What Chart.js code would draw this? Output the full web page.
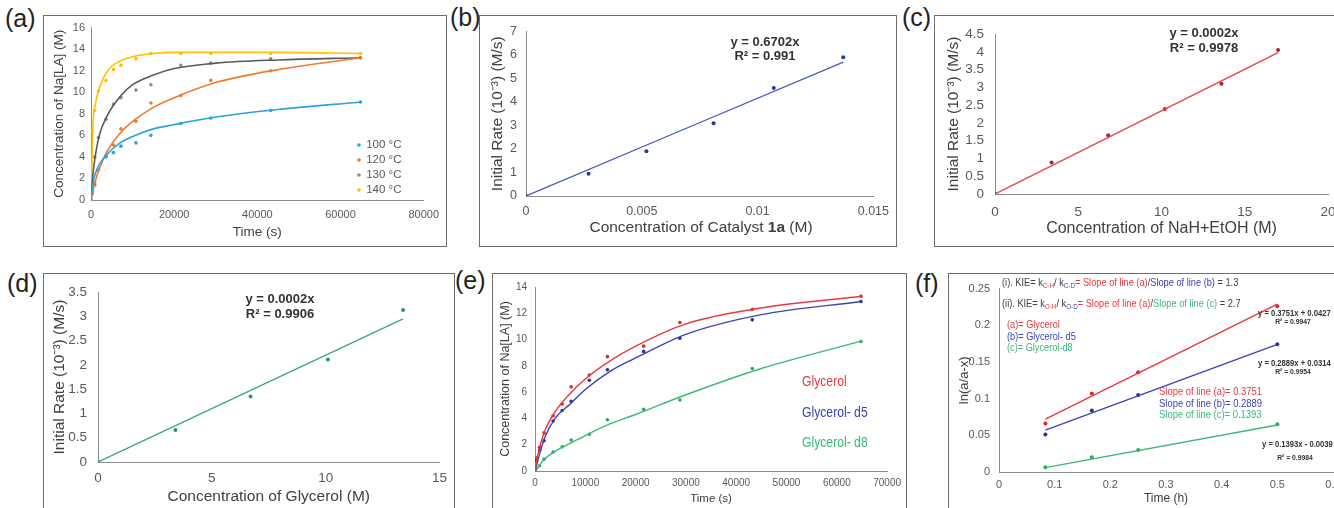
<!DOCTYPE html>
<html>
<head>
<meta charset="utf-8">
<script src="https://cdn.jsdelivr.net/npm/chart.js@4.4.0/dist/chart.umd.min.js"></script>
<style>
    body { margin: 0; width: 1334px; height: 508px; overflow: hidden; background: #fff; position: relative; font-family: 'Liberation Sans', Arial, sans-serif; }
    .box { position: absolute; border: 1px solid #6e6e6e; box-sizing: border-box; }
    canvas { position: absolute; }
    .lab { position: absolute; font-size: 25px; line-height: 1; color: #222; }
</style>
</head>
<body>
<div class="lab" style="left:5px;top:6px">(a)</div>
<div class="lab" style="left:450px;top:5px">(b)</div>
<div class="lab" style="left:902px;top:5px">(c)</div>
<div class="lab" style="left:7px;top:271px">(d)</div>
<div class="lab" style="left:455px;top:268px">(e)</div>
<div class="lab" style="left:915px;top:271px">(f)</div>

<script>
//#region === Dữ liệu ===

// (a) Na[LA] theo thời gian ở 4 nhiệt độ
const timeA = [0, 300, 900, 1800, 3600, 5400, 7200, 10800, 14400, 21600, 28800, 43200, 64800];
const conc100 = [0, 0.6, 1.4, 2.8, 4.0, 4.4, 5.0, 5.3, 6.0, 7.1, 7.6, 8.3, 9.1];
const conc120 = [0, 0.8, 1.6, 2.8, 4.1, 5.1, 6.6, 7.3, 9.0, 9.7, 11.1, 12.0, 13.2];
const conc130 = [0, 1.8, 4.0, 5.8, 7.5, 8.9, 9.5, 10.2, 10.7, 12.5, 12.7, 13.1, 13.2];
const conc140 = [0, 6.4, 8.3, 10.1, 11.1, 12.1, 12.5, 13.1, 13.6, 13.6, 13.6, 13.6, 13.6];
const fitTimeA = [0, 500, 1000, 2000, 4000, 7000, 10000, 15000, 20000, 30000, 45000, 65000];
const fit100 = [0, 1.6, 2.4, 3.3, 4.3, 5.3, 5.9, 6.6, 7.0, 7.7, 8.4, 9.1];
const fit120 = [0, 0.9, 1.7, 2.9, 4.6, 6.2, 7.3, 8.6, 9.5, 10.9, 12.1, 13.2];
const fit130 = [0, 2.5, 4.0, 6.0, 7.9, 9.6, 10.7, 11.6, 12.2, 12.7, 13.0, 13.2];
const fit140 = [0, 7.2, 8.8, 10.4, 12.0, 12.9, 13.3, 13.6, 13.7, 13.7, 13.7, 13.6];
const tempLabels = ['100 °C', '120 °C', '130 °C', '140 °C'];
const xTicksA = [0, 20000, 40000, 60000, 80000];
const yTicksA = [0, 2, 4, 6, 8, 10, 12, 14, 16];

// (b) tốc độ đầu theo nồng độ xúc tác 1a
const catConc = [0, 0.0027, 0.0052, 0.0081, 0.0107, 0.0137];
const rateB = [0, 0.95, 1.9, 3.1, 4.6, 5.9];
const fitXB = [0, 0.0137];
const fitYB = [0, 5.7];
const xTicksB = [0, 0.005, 0.01, 0.015];
const yTicksB = [0, 1, 2, 3, 4, 5, 6, 7];

// (c) tốc độ đầu theo NaH+EtOH
const baseConc = [0, 3.4, 6.8, 10.2, 13.6, 17.0];
const rateC = [0, 0.89, 1.65, 2.39, 3.1, 4.05];
const fitXC = [0, 17.0];
const fitYC = [0, 3.98];
const xTicksC = [0, 5, 10, 15, 20];
const yTicksC = [0, 0.5, 1, 1.5, 2, 2.5, 3, 3.5, 4, 4.5];

// (d) tốc độ đầu theo glycerol
const glyConc = [0, 3.4, 6.7, 10.1, 13.4];
const rateD = [0, 0.66, 1.35, 2.11, 3.13];
const fitXD = [0, 13.4];
const fitYD = [0, 2.95];
const xTicksD = [0, 5, 10, 15];
const yTicksD = [0, 0.5, 1, 1.5, 2, 2.5, 3, 3.5];

// (e) glycerol / glycerol-d5 / glycerol-d8
const timeE = [0, 300, 900, 1800, 3600, 5400, 7200, 10800, 14400, 21600, 28800, 43200, 64800];
const glyH = [0, 1.0, 1.8, 2.9, 4.2, 5.1, 6.4, 7.3, 8.7, 9.5, 11.3, 12.3, 13.3];
const glyD5 = [0, 0.8, 1.6, 2.3, 3.8, 4.6, 5.3, 6.9, 7.7, 9.1, 10.1, 11.5, 12.9];
const glyD8 = [0, 0.2, 0.4, 0.9, 1.45, 1.85, 2.35, 2.8, 3.9, 4.7, 5.4, 7.8, 9.85];
const fitTimeE = [0, 500, 1000, 2000, 4000, 7000, 10000, 15000, 20000, 30000, 45000, 65000];
const fitGlyH = [0, 1.1, 1.9, 3.1, 4.5, 5.9, 7.0, 8.4, 9.5, 11.2, 12.4, 13.3];
const fitGlyD5 = [0, 0.7, 1.4, 2.6, 4.0, 5.1, 6.2, 7.6, 8.6, 10.4, 11.9, 12.9];
const fitGlyD8 = [0, 0.25, 0.5, 0.95, 1.5, 2.1, 2.7, 3.6, 4.3, 5.8, 7.8, 9.9];
const glyLabels = ['Glycerol', 'Glycerol- d5', 'Glycerol- d8'];
const xTicksE = [0, 10000, 20000, 30000, 40000, 50000, 60000, 70000];
const yTicksE = [0, 2, 4, 6, 8, 10, 12, 14];

// (f) ln(a/a-x) theo thời gian (h)
const timeF = [0.0833, 0.1667, 0.25, 0.5];
const lnA = [0.066, 0.107, 0.136, 0.226];
const lnB = [0.051, 0.084, 0.105, 0.174];
const lnC = [0.0065, 0.020, 0.030, 0.065];
const fitXF = [0.0833, 0.5];
const fitYA = [0.072, 0.229];
const fitYB2 = [0.057, 0.174];
const fitYC2 = [0.006, 0.064];
const xTicksF = [0, 0.1, 0.2, 0.3, 0.4, 0.5, 0.6];
const yTicksF = [0, 0.05, 0.1, 0.15, 0.2, 0.25];

//#endregion

//#region === Hàm chung ===

const SANS = "'Liberation Sans', Arial, sans-serif";
const AXIS = '#8c8c8c';
const TICK = '#595959';
const TITLE = '#404040';

const font = (size, family, weight) => `${weight || 'normal'} ${size}px ${family}`;
const pts = (xs, ys) => xs.map((x, i) => ({ x, y: ys[i] }));

function dots(label, xs, ys, color, r) {
    return { label, data: pts(xs, ys), showLine: false, pointRadius: r, pointHoverRadius: r,
        pointBackgroundColor: color, pointBorderWidth: 0 };
}

function curve(label, xs, ys, color, w) {
    return { label, data: pts(xs, ys), showLine: true, pointRadius: 0, borderColor: color,
        borderWidth: w, cubicInterpolationMode: 'monotone', fill: false };
}

// vẽ chữ nhiều màu / chỉ số dưới, toạ độ theo trang; sx < 1 để nén chữ theo chiều ngang
const notesPlugin = {
    id: 'notes',
    afterDraw(chart, args, opts) {
        const ctx = chart.ctx;
        (opts.items || []).forEach(it => {
            const sx = it.sx || 1;
            ctx.save();
            ctx.textBaseline = 'middle';
            const parts = it.parts.map(p => Object.assign({}, p));
            let total = 0;
            parts.forEach(p => {
                if (p.dot) p.w = 6 / sx;
                else { ctx.font = p.font || it.font; p.w = ctx.measureText(p.t).width; }
                total += p.w;
            });
            const x0 = (it.align === 'center' ? it.x - total * sx / 2 : it.x) - opts.ox;
            ctx.translate(x0, it.y - opts.oy);
            ctx.scale(sx, 1);
            let x = 0;
            parts.forEach(p => {
                if (p.dot) {
                    ctx.fillStyle = p.dot;
                    ctx.beginPath();
                    ctx.arc(x + 2, 0, 1.8, 0, Math.PI * 2);
                    ctx.fill();
                } else {
                    ctx.font = p.font || it.font;
                    ctx.fillStyle = p.color || it.color || TITLE;
                    ctx.fillText(p.t, x, p.dy || 0);
                }
                x += p.w;
            });
            ctx.restore();
        });
    }
};
Chart.register(notesPlugin);

function axis(ticks, tickFont, tickPad, title, titleFont, fixed, isX, hideTitle) {
    return {
        type: 'linear',
        min: ticks[0],
        max: ticks[ticks.length - 1],
        afterBuildTicks: s => { s.ticks = ticks.map(v => ({ value: v })); },
        afterFit: s => { if (isX) s.height = fixed; else s.width = fixed; },
        grid: { display: false, drawTicks: false },
        border: { display: true, color: AXIS, width: 1 },
        ticks: { color: TICK, font: tickFont, padding: tickPad, autoSkip: false, maxRotation: 0, callback: v => String(v) },
        title: { display: true, text: title, color: hideTitle ? 'rgba(0,0,0,0)' : TITLE, font: titleFont, padding: 0 }
    };
}

/**
 * Tạo một ô biểu đồ: khung viền + canvas, vùng vẽ khớp toạ độ trong ảnh gốc
 */
function buildPanel(p) {
    const border = document.createElement('div');
    border.className = 'box';
    Object.assign(border.style, { left: p.box.x + 'px', top: p.box.y + 'px', width: p.box.w + 'px', height: p.box.h + 'px' });
    document.body.appendChild(border);

    const canvas = document.createElement('canvas');
    canvas.width = p.box.w;
    canvas.height = p.box.h;
    Object.assign(canvas.style, { left: p.box.x + 'px', top: p.box.y + 'px', width: p.box.w + 'px', height: p.box.h + 'px' });
    document.body.appendChild(canvas);

    const lhY = p.yTitleFont.size * 1.2;
    const padL = p.yTitleX - p.box.x - lhY / 2;
    const yW = p.area.l - p.box.x - padL;
    const padT = p.area.t - p.box.y;
    const padR = p.box.x + p.box.w - p.area.r;
    const lhX = p.xTitleFont.size * 1.2;
    const xBottom = p.xTitleY + lhX / 2 - p.box.y;
    const padB = p.box.h - xBottom;
    const xH = xBottom - (p.area.b - p.box.y);

    return new Chart(canvas.getContext('2d'), {
        type: 'scatter',
        data: { datasets: p.datasets },
        options: {
            responsive: false,
            animation: false,
            devicePixelRatio: 1,
            layout: { padding: { left: padL, top: padT, right: padR, bottom: padB } },
            scales: {
                x: axis(p.xTicks, p.tickFont, p.xTickPad, p.xTitle, p.xTitleFont, xH, true, p.hideXTitle),
                y: axis(p.yTicks, p.tickFont, p.yTickPad, p.yTitle, p.yTitleFont, yW, false)
            },
            plugins: {
                legend: { display: false },
                tooltip: { enabled: false },
                notes: { ox: p.box.x, oy: p.box.y, items: p.notes || [] }
            }
        }
    });
}

//#endregion

//#region === Khởi tạo các ô ===

const C100 = '#2ba3dc', C120 = '#ed7d31', C130 = '#8c8c8c', C130L = '#595959', C140 = '#ffc000';
const RED = '#e8393f', BLUE = '#3d43b3', GREEN = '#3cb878';

// (a)
buildPanel({
    box: { x: 43, y: 15, w: 404, h: 232 },
    area: { l: 91, t: 26, r: 425, b: 200 },
    yTitleX: 59, xTitleY: 232,
    xTicks: xTicksA, yTicks: yTicksA,
    tickFont: { family: SANS, size: 11 }, xTickPad: 8, yTickPad: 6,
    xTitle: 'Time (s)', xTitleFont: { family: SANS, size: 13.5 },
    yTitle: 'Concentration of Na[LA] (M)', yTitleFont: { family: SANS, size: 13.5 },
    datasets: [
        curve(tempLabels[0] + ' fit', fitTimeA, fit100, C100, 1.6),
        curve(tempLabels[1] + ' fit', fitTimeA, fit120, C120, 1.6),
        curve(tempLabels[2] + ' fit', fitTimeA, fit130, C130L, 1.6),
        curve(tempLabels[3] + ' fit', fitTimeA, fit140, C140, 1.6),
        dots(tempLabels[0], timeA, conc100, C100, 1.8),
        dots(tempLabels[1], timeA, conc120, C120, 1.8),
        dots(tempLabels[2], timeA, conc130, C130, 1.8),
        dots(tempLabels[3], timeA, conc140, C140, 1.8)
    ],
    notes: [C100, C120, C130, C140].map((c, i) => ({
        x: 357, y: 145 + i * 15, font: font(11.5, SANS), color: TICK,
        parts: [{ dot: c }, { t: ' ' + tempLabels[i] }]
    }))
});

// (b)
buildPanel({
    box: { x: 479, y: 15, w: 418, h: 232 },
    area: { l: 526, t: 27, r: 877, b: 196 },
    yTitleX: 498, xTitleY: 228,
    xTicks: xTicksB, yTicks: yTicksB,
    tickFont: { family: SANS, size: 12.5 }, xTickPad: 8, yTickPad: 9,
    xTitle: 'Concentration of Catalyst 1a (M)', xTitleFont: { family: SANS, size: 15.5 }, hideXTitle: true,
    yTitle: 'Initial Rate (10⁻³) (M/s)', yTitleFont: { family: SANS, size: 15.5 },
    datasets: [
        curve('fit', fitXB, fitYB, '#4a58c2', 1.3),
        dots('rate', catConc, rateB, '#23389a', 2)
    ],
    notes: [
        { x: 701, y: 228, align: 'center', font: font(15.5, SANS), color: TITLE,
          parts: [{ t: 'Concentration of Catalyst ' }, { t: '1a', font: font(15.5, SANS, 'bold') }, { t: ' (M)' }] },
        { x: 765, y: 42, align: 'center', font: font(13, SANS, 'bold'), color: '#333', parts: [{ t: 'y = 0.6702x' }] },
        { x: 765, y: 56, align: 'center', font: font(13, SANS, 'bold'), color: '#333', parts: [{ t: 'R² = 0.991' }] }
    ]
});

// (c)
buildPanel({
    box: { x: 934, y: 15, w: 420, h: 232 },
    area: { l: 995, t: 27, r: 1328, b: 194 },
    yTitleX: 954, xTitleY: 229,
    xTicks: xTicksC, yTicks: yTicksC,
    tickFont: { family: SANS, size: 13.5 }, xTickPad: 10, yTickPad: 11,
    xTitle: 'Concentration of NaH+EtOH (M)', xTitleFont: { family: SANS, size: 16 },
    yTitle: 'Initial Rate (10⁻³) (M/s)', yTitleFont: { family: SANS, size: 15.5 },
    datasets: [
        curve('fit', fitXC, fitYC, '#e8404a', 1.3),
        dots('rate', baseConc, rateC, '#b3202e', 2)
    ],
    notes: [
        { x: 1204, y: 33, align: 'center', font: font(13, SANS, 'bold'), color: '#333', parts: [{ t: 'y = 0.0002x' }] },
        { x: 1204, y: 48, align: 'center', font: font(13, SANS, 'bold'), color: '#333', parts: [{ t: 'R² = 0.9978' }] }
    ]
});

// (d)
buildPanel({
    box: { x: 43, y: 273, w: 412, h: 240 },
    area: { l: 98, t: 283, r: 442, b: 462 },
    yTitleX: 60, xTitleY: 497,
    xTicks: xTicksD, yTicks: yTicksD,
    tickFont: { family: SANS, size: 13.5 }, xTickPad: 8, yTickPad: 11,
    xTitle: 'Concentration of Glycerol (M)', xTitleFont: { family: SANS, size: 15.5 },
    yTitle: 'Initial Rate (10⁻³) (M/s)', yTitleFont: { family: SANS, size: 15.5 },
    datasets: [
        curve('fit', fitXD, fitYD, '#3aa876', 1.3),
        dots('rate', glyConc, rateD, '#219a64', 2)
    ],
    notes: [
        { x: 280, y: 299, align: 'center', font: font(13, SANS, 'bold'), color: '#333', parts: [{ t: 'y = 0.0002x' }] },
        { x: 280, y: 314, align: 'center', font: font(13, SANS, 'bold'), color: '#333', parts: [{ t: 'R² = 0.9906' }] }
    ]
});

// (e)
buildPanel({
    box: { x: 492, y: 273, w: 415, h: 240 },
    area: { l: 535, t: 281, r: 888, b: 471 },
    yTitleX: 506, xTitleY: 499,
    xTicks: xTicksE, yTicks: yTicksE,
    tickFont: { family: SANS, size: 10 }, xTickPad: 6, yTickPad: 8,
    xTitle: 'Time (s)', xTitleFont: { family: SANS, size: 11.5 },
    yTitle: 'Concentration of Na[LA] (M)', yTitleFont: { family: SANS, size: 12.5 },
    datasets: [
        curve(glyLabels[0] + ' fit', fitTimeE, fitGlyH, RED, 1.4),
        curve(glyLabels[1] + ' fit', fitTimeE, fitGlyD5, BLUE, 1.4),
        curve(glyLabels[2] + ' fit', fitTimeE, fitGlyD8, GREEN, 1.4),
        dots(glyLabels[0], timeE, glyH, '#d42a30', 1.8),
        dots(glyLabels[1], timeE, glyD5, '#2a3096', 1.8),
        dots(glyLabels[2], timeE, glyD8, '#2ea565', 1.8)
    ],
    notes: [RED, BLUE, GREEN].map((c, i) => ({
        x: 802, y: 382 + i * 30.5, font: font(14.5, SANS), sx: 0.84, color: c, parts: [{ t: glyLabels[i] }]
    }))
});

// (f)
const subF = font(7.5, SANS);
const txtF = font(11, SANS);
const legF = font(11.5, SANS);
const slopeF = font(11.8, SANS);
buildPanel({
    box: { x: 948, y: 273, w: 410, h: 240 },
    area: { l: 999, t: 280, r: 1333, b: 472 },
    yTitleX: 964, xTitleY: 499,
    xTicks: xTicksF, yTicks: yTicksF,
    tickFont: { family: SANS, size: 11 }, xTickPad: 6, yTickPad: 9,
    xTitle: 'Time (h)', xTitleFont: { family: SANS, size: 12 },
    yTitle: 'ln(a/a-x)', yTitleFont: { family: SANS, size: 13 },
    datasets: [
        curve('(a) fit', fitXF, fitYA, RED, 1.4),
        curve('(b) fit', fitXF, fitYB2, BLUE, 1.4),
        curve('(c) fit', fitXF, fitYC2, GREEN, 1.4),
        dots('(a)= Glycerol', timeF, lnA, '#d42a30', 2),
        dots('(b)= Glycerol- d5', timeF, lnB, '#2a3096', 2),
        dots('(c)= Glycerol-d8', timeF, lnC, '#2ea565', 2)
    ],
    notes: [
        { x: 1002, y: 283, font: txtF, sx: 0.84, color: TITLE, parts: [
            { t: '(i). KIE= k' }, { t: 'C-H', font: subF, color: RED, dy: 3 }, { t: '/ k' },
            { t: 'C-D', font: subF, color: BLUE, dy: 3 }, { t: '= Slope of line (a)', color: RED },
            { t: '/' }, { t: 'Slope of line (b)', color: BLUE }, { t: ' = 1.3' }] },
        { x: 1002, y: 304, font: txtF, sx: 0.84, color: TITLE, parts: [
            { t: '(ii). KIE= k' }, { t: 'O-H', font: subF, color: RED, dy: 3 }, { t: '/ k' },
            { t: 'O-D', font: subF, color: BLUE, dy: 3 }, { t: '= Slope of line (a)', color: RED },
            { t: '/' }, { t: 'Slope of line (c)', color: GREEN }, { t: ' = 2.7' }] },
        { x: 1007, y: 325, font: legF, sx: 0.8, color: RED, parts: [{ t: '(a)= Glycerol' }] },
        { x: 1007, y: 337, font: legF, sx: 0.8, color: BLUE, parts: [{ t: '(b)= Glycerol- d5' }] },
        { x: 1007, y: 348, font: legF, sx: 0.8, color: GREEN, parts: [{ t: '(c)= Glycerol-d8' }] },
        { x: 1159, y: 392, font: slopeF, sx: 0.8, color: RED, parts: [{ t: 'Slope of line (a)= 0.3751' }] },
        { x: 1159, y: 404, font: slopeF, sx: 0.8, color: BLUE, parts: [{ t: 'Slope of line (b)= 0.2889' }] },
        { x: 1159, y: 415, font: slopeF, sx: 0.8, color: GREEN, parts: [{ t: 'Slope of line (c)= 0.1393' }] },
        { x: 1258, y: 314, font: font(8.5, SANS, 'bold'), sx: 0.9, color: '#333', parts: [{ t: 'y = 0.3751x + 0.0427' }] },
        { x: 1293, y: 322, align: 'center', font: font(8, SANS, 'bold'), sx: 0.85, color: '#333', parts: [{ t: 'R² = 0.9947' }] },
        { x: 1258, y: 364, font: font(8.5, SANS, 'bold'), sx: 0.9, color: '#333', parts: [{ t: 'y = 0.2889x + 0.0314' }] },
        { x: 1293, y: 372, align: 'center', font: font(8, SANS, 'bold'), sx: 0.85, color: '#333', parts: [{ t: 'R² = 0.9954' }] },
        { x: 1262, y: 445, font: font(8.5, SANS, 'bold'), sx: 0.9, color: '#333', parts: [{ t: 'y = 0.1393x - 0.0039' }] },
        { x: 1295, y: 458, align: 'center', font: font(8, SANS, 'bold'), sx: 0.85, color: '#333', parts: [{ t: 'R² = 0.9984' }] }
    ]
});

//#endregion
</script>
</body>
</html>
